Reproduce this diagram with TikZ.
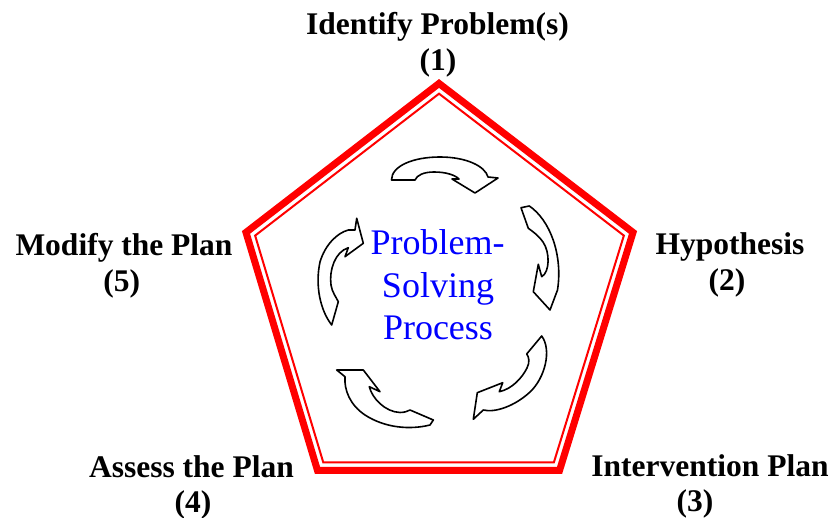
\documentclass[tikz,border=0pt]{standalone}
\usepackage{fontspec}
\setmainfont{Liberation Serif}
\usetikzlibrary{calc}
\tikzset{
  lbl/.style={font=\fontsize{31.5}{36}\selectfont\bfseries, anchor=base, inner sep=0pt},
  ctr/.style={font=\fontsize{36}{42}\selectfont, text=blue, anchor=base, inner sep=0pt},
  cyc/.style={draw=black, fill=white, line width=1.6pt, line join=round},
  outerpen/.style={draw=red, line width=7pt, line join=miter},
  innerpen/.style={draw=red, line width=2pt, line join=miter},
}
\begin{document}
\begin{tikzpicture}[x=1pt,y=-1pt]
\useasboundingbox (0,0) rectangle (830,518);
% pentagon vertices (outer edge) and centre
\coordinate (c) at (439.5,300);
\coordinate (p1) at (439,79);
\coordinate (p2) at (637,231);
\coordinate (p3) at (562,474);
\coordinate (p4) at (315,474);
\coordinate (p5) at (242,231);
\draw[outerpen] ($(c)!0.9798!(p1)$) -- ($(c)!0.9798!(p2)$) -- ($(c)!0.9798!(p3)$) -- ($(c)!0.9798!(p4)$) -- ($(c)!0.9798!(p5)$) -- cycle;
\draw[innerpen] ($(c)!0.9335!(p1)$) -- ($(c)!0.9335!(p2)$) -- ($(c)!0.9335!(p3)$) -- ($(c)!0.9335!(p4)$) -- ($(c)!0.9335!(p5)$) -- cycle;

% curved arrows
\draw[cyc] (391.5,180) .. controls (391.5,166) and (413,157) .. (440,157)
  .. controls (466,157) and (485,166) .. (488,177) -- (498,178) -- (475,193) -- (452,179) -- (459,179)
  .. controls (455,175) and (446,172) .. (434,172) .. controls (424,172) and (417,175) .. (415,180) -- cycle;

\draw[cyc] (521,207.7) -- (529.3,206) .. controls (550,220) and (563,255) .. (557.5,290) -- (550,310)
  -- (533.3,291.7) -- (538.3,264.3) -- (541.7,276.7)
  .. controls (550,272) and (550,252) .. (543,242) .. controls (538,235) and (532,231) .. (528.3,228.3) -- cycle;

\draw[cyc] (526.7,354) -- (541.7,336) .. controls (552,350) and (545,378) .. (530,392)
  .. controls (515,406) and (495,413) .. (483.3,410) -- (473.3,419.3) -- (477.3,392.7) -- (502.7,382.7) -- (499.3,391.7)
  .. controls (512,389) and (522,378) .. (527,368) .. controls (530,362) and (529,357) .. (526.7,354) -- cycle;

\draw[cyc] (336.7,370) -- (363.3,370) -- (380,391.7) -- (369.3,386.7)
  .. controls (372,398) and (385,412) .. (400,412.5) .. controls (405,412.5) and (408,411) .. (410,410)
  -- (433.3,420) -- (430,425) .. controls (410,430) and (385,428) .. (365,415)
  .. controls (350,405) and (344,390) .. (345,376.7) -- cycle;

\draw[cyc] (356.7,218.3) -- (363.3,243.3) -- (345,256.7) -- (348.3,247.7)
  .. controls (335,252) and (329,270) .. (331,285) .. controls (332,292) and (336,297) .. (338.3,301.7)
  -- (331.7,325) .. controls (320,310) and (315,285) .. (320,262)
  .. controls (325,245) and (337,233) .. (348.3,230) -- (355,230) -- cycle;

% centre text
\node[ctr] (t1) at (437.5,255) {Problem-};
\node[ctr] (t2) at (438,297.3) {Solving};
\node[ctr] (t3) at (438,340) {Process};

% labels
\node[lbl] (l1a) at (437.5,34.5) {Identify Problem(s)};
\node[lbl] (l1b) at (438,70.5) {(1)};
\node[lbl] (l2a) at (730,255) {Hypothesis};
\node[lbl] (l2b) at (727,291) {(2)};
\node[lbl] (l3a) at (710,476.7) {Intervention Plan};
\node[lbl] (l3b) at (695,511.7) {(3)};
\node[lbl] (l4a) at (191.5,477) {Assess the Plan};
\node[lbl] (l4b) at (193,512) {(4)};
\node[lbl] (l5a) at (124,256) {Modify the Plan};
\node[lbl] (l5b) at (121.7,291.7) {(5)};
\end{tikzpicture}
\end{document}
